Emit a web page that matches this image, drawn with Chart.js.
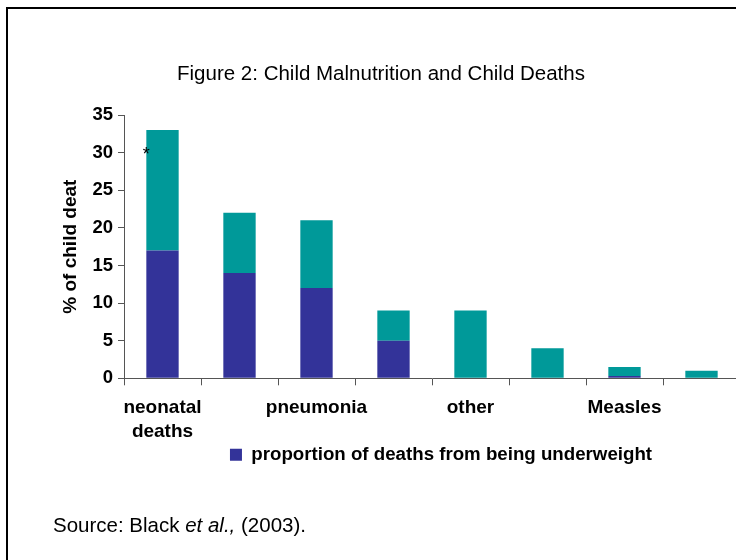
<!DOCTYPE html>
<html>
<head>
<meta charset="utf-8">
<script src="https://cdn.jsdelivr.net/npm/chart.js@4/dist/chart.umd.min.js"></script>
<style>
  html, body { margin: 0; padding: 0; background: #fff; overflow: hidden; width: 736px; height: 560px; }
  #wrap { position: absolute; left: 0; top: 0; width: 745px; height: 560px; }
</style>
</head>
<body>
<div id="wrap"><canvas id="chart" width="745" height="560"></canvas></div>
<script>
// Causes of child death (% of all child deaths)
const categories = [['neonatal', 'deaths'], 'diarrhoea', 'pneumonia', 'malaria', 'other', 'AIDS', 'Measles', 'injuries'];
// share attributable to being underweight
const underweightShare = [17, 14, 12, 5, 0, 0, 0.3, 0];
// remaining share of each cause
const remainingShare = [16, 8, 9, 4, 9, 4, 1.2, 1];
const yTickValues = [0, 5, 10, 15, 20, 25, 30, 35];

const chartTitle = 'Figure 2: Child Malnutrition and Child Deaths';
const yAxisTitle = '% of child deat';
const legendLabel = 'proportion of deaths from being underweight';

const FONT = '"Liberation Sans", Arial, Helvetica, sans-serif';
const BLUE = '#333399';
const TEAL = '#009999';
const AXIS = '#555555';
const PAD_LEFT = 59;

// Frame, title, source note and the asterisk on the first bar
const decorations = {
  id: 'decorations',
  afterLayout(chart) {
    // legend sits tucked under the category labels, slightly right of the plot centre
    const lg = chart.legend;
    if (lg) {
      lg.left += 9; lg.right += 9;
      lg.top -= 9; lg.bottom -= 9;
    }
  },
  beforeDraw(chart) {
    const ctx = chart.ctx;
    ctx.save();
    ctx.fillStyle = '#fff';
    ctx.fillRect(0, 0, chart.width, chart.height);
    ctx.strokeStyle = '#000';
    ctx.lineWidth = 2;
    ctx.strokeRect(7, 8, chart.width + 20, chart.height + 20);
    ctx.restore();
  },
  afterDraw(chart) {
    const ctx = chart.ctx;
    ctx.save();
    ctx.fillStyle = '#000';
    ctx.textBaseline = 'alphabetic';

    ctx.font = '20.5px ' + FONT;
    ctx.textAlign = 'center';
    ctx.fillText(chartTitle, 381, 80);

    ctx.textAlign = 'left';
    let x = 53;
    const y = 532;
    const parts = [['Source: Black ', ''], ['et al.,', 'italic '], [' (2003).', '']];
    parts.forEach(([t, style]) => {
      ctx.font = style + '20.5px ' + FONT;
      ctx.fillText(t, x, y);
      x += ctx.measureText(t).width;
    });

    const bar = chart.getDatasetMeta(1).data[0];
    if (bar) {
      ctx.font = '18px ' + FONT;
      ctx.textAlign = 'center';
      ctx.fillText('*', bar.x - bar.width / 2, bar.y + 30);
    }
    ctx.restore();
  }
};

new Chart(document.getElementById('chart'), {
  type: 'bar',
  data: {
    labels: categories,
    datasets: [
      {
        label: legendLabel,
        data: underweightShare,
        backgroundColor: BLUE,
        borderWidth: 0,
        categoryPercentage: 1,
        barPercentage: 0.42
      },
      {
        label: 'other causes',
        data: remainingShare,
        backgroundColor: TEAL,
        borderWidth: 0,
        categoryPercentage: 1,
        barPercentage: 0.42
      }
    ]
  },
  options: {
    responsive: false,
    devicePixelRatio: 1,
    animation: false,
    layout: { padding: { left: PAD_LEFT, right: 5, top: 115, bottom: 77 } },
    plugins: {
      title: { display: false },
      tooltip: { enabled: false },
      legend: {
        position: 'bottom',
        fullSize: false,
        labels: {
          filter: item => item.datasetIndex === 0,
          boxWidth: 12,
          boxHeight: 12,
          padding: 10,
          color: '#000',
          font: { family: FONT, size: 18.7, weight: 'bold' }
        }
      }
    },
    scales: {
      x: {
        stacked: true,
        grid: { offset: true, drawOnChartArea: false, drawTicks: true, tickLength: 7, color: AXIS },
        border: { display: true, color: AXIS, width: 1 },
        ticks: {
          autoSkip: false,
          maxRotation: 0,
          minRotation: 0,
          padding: 11,
          color: '#000',
          font: { family: FONT, size: 19, weight: 'bold', lineHeight: 1.25 },
          callback(value, index) {
            return index % 2 === 0 ? this.getLabelForValue(value) : '';
          }
        },
        afterFit(scale) { scale.height = 66; }
      },
      y: {
        stacked: true,
        min: yTickValues[0],
        max: yTickValues[yTickValues.length - 1],
        afterBuildTicks(scale) { scale.ticks = yTickValues.map(v => ({ value: v })); },
        grid: { drawOnChartArea: false, drawTicks: true, tickLength: 6, color: AXIS },
        border: { display: true, color: AXIS, width: 1 },
        ticks: {
          padding: 5,
          color: '#000',
          font: { family: FONT, size: 18.5, weight: 'bold' }
        },
        title: {
          display: true,
          text: yAxisTitle,
          color: '#000',
          padding: 0,
          font: { family: FONT, size: 19, weight: 'bold' }
        },
        afterFit(scale) { scale.width = 124 - PAD_LEFT; }
      }
    }
  },
  plugins: [decorations]
});
</script>
</body>
</html>
